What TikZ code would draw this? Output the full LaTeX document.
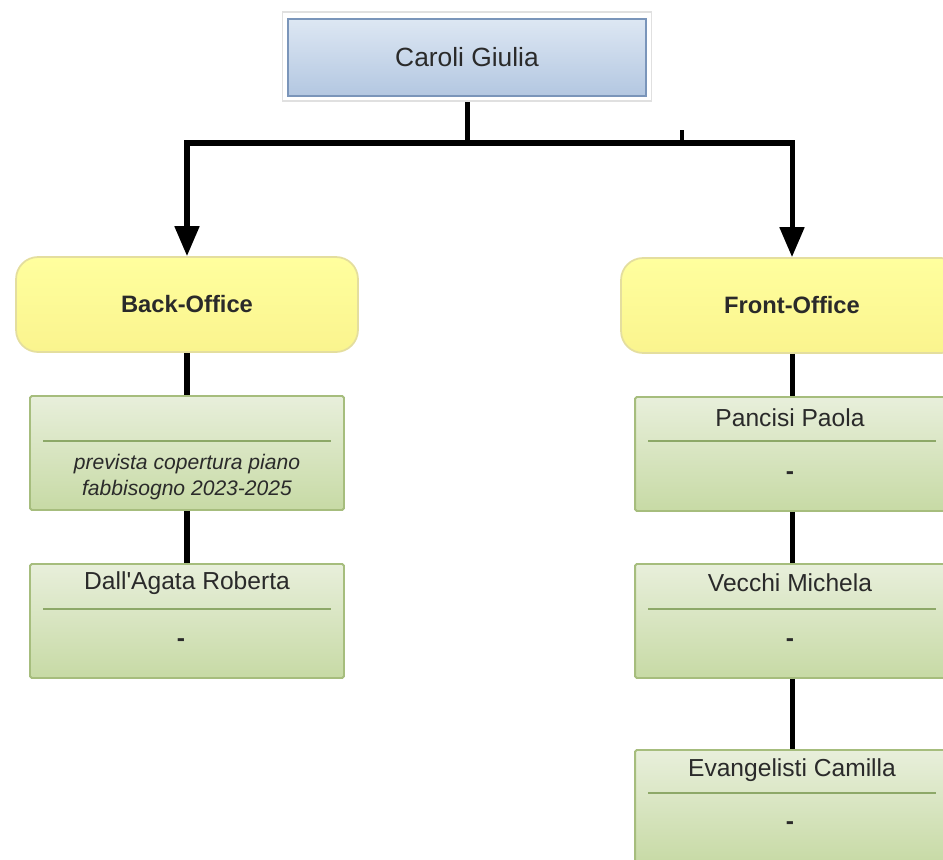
\documentclass[tikz,border=0pt]{standalone}
\usepackage{fontspec}
\setmainfont{Liberation Sans}
\usetikzlibrary{arrows.meta}

\definecolor{bluetop}{HTML}{DDE7F3}
\definecolor{bluebot}{HTML}{B3C7E1}
\definecolor{blueedge}{HTML}{7A95BA}
\definecolor{yellowfill}{HTML}{FFFF9E}
\definecolor{yellowbot}{HTML}{FAF48E}
\definecolor{yellowedge}{HTML}{E4DE9E}
\definecolor{greentop}{HTML}{E8EFDB}
\definecolor{greenbot}{HTML}{C7DAA5}
\definecolor{greenedge}{HTML}{A6BD7D}
\definecolor{sepgreen}{HTML}{8DA868}
\definecolor{textgray}{HTML}{2A2A2A}

\begin{document}
\begin{tikzpicture}[x=0.02cm,y=-0.02cm,
  topframe/.style={draw=black!12, line width=1pt, fill=white, minimum width=7.38cm, minimum height=1.78cm},
  topbox/.style={draw=blueedge, line width=1.1pt, top color=bluetop, bottom color=bluebot,
    minimum width=7.16cm, minimum height=1.54cm, font=\fontsize{15}{18}\selectfont, text=textgray},
  office/.style={draw=yellowedge, line width=1pt, rounded corners=0.44cm, top color=yellowfill, bottom color=yellowbot,
    minimum width=6.84cm, minimum height=1.9cm, font=\bfseries\fontsize{13.5}{16}\selectfont, text=textgray},
  person/.style={draw=greenedge, line width=1.1pt, rounded corners=1pt, top color=greentop, bottom color=greenbot,
    minimum width=6.28cm, minimum height=2.28cm},
  nametext/.style={font=\fontsize{14}{16}\selectfont, text=textgray, inner sep=0pt},
  notetext/.style={font=\itshape\fontsize{12}{14.7}\selectfont, text=textgray, align=center, inner sep=0pt},
  dashtext/.style={font=\bfseries\fontsize{14}{16}\selectfont, text=textgray, inner sep=0pt},
  sepline/.style={draw=sepgreen, line width=1pt},
  link/.style={draw=black, line width=2.85pt},
  arrowlink/.style={link, line join=miter, -{Triangle[length=0.6cm,width=0.48cm]}}]

  \useasboundingbox (0,0) rectangle (943,859);
  \clip (0,0) rectangle (943,859);

  % head
  \node[topframe] (frame) at (467,56.5) {};
  \node[topbox] (giulia) at (467,57.5) {Caroli Giulia};

  % offices
  \node[office] (back) at (187,304.5) {Back-Office};
  \node[office] (front) at (792,305.5) {Front-Office};

  \coordinate (bus) at (467,143);
  \coordinate (tick) at (682,130);
  \draw[link] (frame.south) -- (bus);
  \draw[arrowlink] (bus) -| (back.north);
  \draw[arrowlink] (bus) -| (front.north);
  \draw[draw=black, line width=2pt] (tick) -- (tick |- bus);

  % back-office staff
  \node[person] (bo1) at (187,453) {};
  \draw[sepline] (43,441) -- (331,441);
  \node[notetext] (bo1note) at (187,477) {prevista copertura piano\\fabbisogno 2023-2025};

  \node[person] (bo2) at (187,621) {};
  \node[nametext] (bo2name) at (187,583) {Dall\textquotesingle Agata Roberta};
  \draw[sepline] (43,609) -- (331,609);
  \node[dashtext] (bo2dash) at (181,643) {-};

  \draw[link] (back.south) -- (bo1.north);
  \draw[link] (bo1.south) -- (bo2.north);

  % front-office staff
  \node[person] (fo1) at (792,454) {};
  \node[nametext] (fo1name) at (790,418) {Pancisi Paola};
  \draw[sepline] (648,441) -- (936,441);
  \node[dashtext] (fo1dash) at (790,476) {-};

  \node[person] (fo2) at (792,621) {};
  \node[nametext] (fo2name) at (790,583) {Vecchi Michela};
  \draw[sepline] (648,609) -- (936,609);
  \node[dashtext] (fo2dash) at (790,643) {-};

  \node[person] (fo3) at (792,807) {};
  \node[nametext] (fo3name) at (792,770) {Evangelisti Camilla};
  \draw[sepline] (648,793) -- (936,793);
  \node[dashtext] (fo3dash) at (790,826) {-};

  \draw[link] (front.south) -- (fo1.north);
  \draw[link] (fo1.south) -- (fo2.north);
  \draw[link] (fo2.south) -- (fo3.north);
\end{tikzpicture}
\end{document}
